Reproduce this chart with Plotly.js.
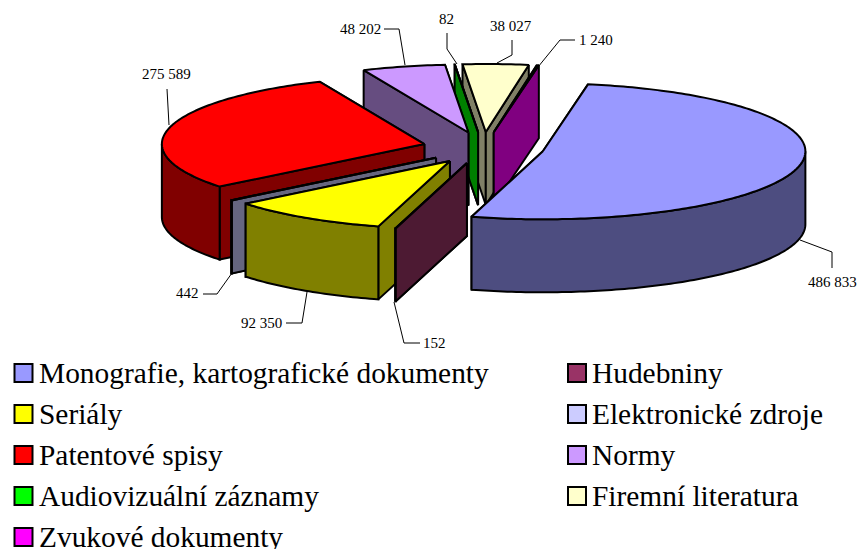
<!DOCTYPE html>
<html>
<head>
<meta charset="utf-8">
<script src="https://cdn.plot.ly/plotly-3.0.1.min.js"></script>
<style>html,body{margin:0;padding:0;background:#fff;overflow:hidden}#chart{width:858px;height:549px}</style>
</head>
<body>
<div id="chart"></div>
<script>
// Data, in clockwise slice order starting from Monografie
const categories = ["Monografie, kartografické dokumenty","Hudebniny","Seriály","Elektronické zdroje","Patentové spisy","Normy","Audiovizuální záznamy","Firemní literatura","Zvukové dokumenty"];
const values = [486833,152,92350,442,275589,48202,82,38027,1240];
const valueLabels = ["486 833","152","92 350","442","275 589","48 202","82","38 027","1 240"];
const topColors = ["#9999FF","#993366","#FFFF00","#CCCCFF","#FF0000","#CC99FF","#00FF00","#FFFFCC","#FF00FF"];
const wallColors = ["#4D4D80","#4D1A33","#808000","#666680","#800000","#664D80","#008000","#808066","#800080"];
const colorsInLegend = ["#9999FF","#FFFF00","#FF0000","#00FF00","#FF00FF","#993366","#CCCCFF","#CC99FF","#FFFFCC"];
const legendNames = ["Monografie, kartografické dokumenty","Seriály","Patentové spisy","Audiovizuální záznamy","Zvukové dokumenty","Hudebniny","Elektronické zdroje","Normy","Firemní literatura"];

// Projection settings
const view = {cx:483.5, cy:147.8, a:262.5, b:68, depth:73, explode:0.232, startDeg:9.9};
const paintOrder = [7,8,6,5,4,3,2,1,0];

// Label placement: text anchor and leader polyline, per slice
const labelLayout = [
  {x:832,y:282,anchor:"center",path:[[800,240],[832,252],[832,268]]},
  {x:421,y:343,anchor:"left",path:[[394,302],[404,343],[420,343]]},
  {x:284,y:323,anchor:"right",path:[[286,323],[302,323],[307,292]]},
  {x:201,y:293,anchor:"right",path:[[203,294],[217,294],[232,273]]},
  {x:166,y:74,anchor:"center",path:[[167,89],[169,125]]},
  {x:383,y:29,anchor:"right",path:[[384,29],[399,29],[405,65]]},
  {x:446,y:19,anchor:"center",path:[[447,33],[447,49],[457,64]]},
  {x:511,y:26,anchor:"center",path:[[512,40],[512,55],[497,63]]},
  {x:577,y:40,anchor:"left",path:[[575,40],[560,40],[538,67]]}
];

const rad = d => d*Math.PI/180;
const total = values.reduce((s,v)=>s+v,0);
let acc = view.startDeg;
const slices = values.map((v,i)=>{
  const span = v/total*360, s = acc, e = acc+span; acc = e;
  const mid = (s+e)/2;
  return {i, s, e,
    ax: view.cx + view.explode*view.a*Math.sin(rad(mid)),
    ay: view.cy - view.explode*view.b*Math.cos(rad(mid))};
});
const pt = (sl,deg,dz=0)=>[sl.ax+view.a*Math.sin(rad(deg)), sl.ay-view.b*Math.cos(rad(deg))+dz];
function arc(sl,from,to,dz=0){
  const out=[]; const n=Math.max(1,Math.ceil(Math.abs(to-from)));
  for(let k=0;k<=n;k++) out.push(pt(sl,from+(to-from)*k/n,dz));
  return out;
}
const face=(pts,fill,name)=>{
  const c=pts.concat([pts[0]]);
  return {type:"scatter",mode:"lines",x:c.map(p=>p[0]),y:c.map(p=>p[1]),fill:"toself",fillcolor:fill,
    line:{color:"#000",width:2,simplify:false},hoverinfo:"name",name,showlegend:false};
};
const traces=[];
paintOrder.forEach(idx=>{
  const sl=slices[idx], d=view.depth, name=categories[idx];
  const wall=deg=>{const o=pt(sl,deg),b=pt(sl,deg,d);
    return {y:o[1],t:face([[sl.ax,sl.ay],o,b,[sl.ax,sl.ay+d]],wallColors[idx],name)};};
  [wall(sl.s),wall(sl.e)].sort((p,q)=>p.y-q.y).forEach(w=>traces.push(w.t));
  // outer rim: only the part of the arc facing the viewer
  [[sl.s,sl.e],[sl.s-360,sl.e-360]].forEach(([s,e])=>{
    const f=Math.max(s,90), t=Math.min(e,270);
    if(t>f) traces.push(face(arc(sl,f,t).concat(arc(sl,t,f,d)),wallColors[idx],name));
  });
  traces.push(face([[sl.ax,sl.ay]].concat(arc(sl,sl.s,sl.e)),topColors[idx],name));
});

// Leader lines
labelLayout.forEach((l,i)=>traces.push({type:"scatter",mode:"lines",x:l.path.map(p=>p[0]),y:l.path.map(p=>p[1]),
  line:{color:"#000",width:1},hoverinfo:"skip",showlegend:false}));

// Legend
const legendCols=[{box:23.5,text:37},{box:577,text:590}];
const legendRows=[373,414,455,496,537];
legendNames.forEach((n,i)=>{
  const col=legendCols[i<5?0:1], y=legendRows[i<5?i:i-5];
  traces.push({type:"scatter",mode:"markers",x:[col.box],y:[y],name:n,hoverinfo:"name",showlegend:false,cliponaxis:false,
    marker:{symbol:"square",size:18,color:colorsInLegend[i],line:{color:"#000",width:2}}});
});

const font="'Liberation Serif','Times New Roman',serif";
const annotations=labelLayout.map((l,i)=>({x:l.x,y:l.y,xref:"x",yref:"y",text:valueLabels[i],showarrow:false,
  xanchor:l.anchor,yanchor:"middle",font:{family:font,size:15,color:"#000"}}));
legendNames.forEach((n,i)=>{
  const col=legendCols[i<5?0:1], y=legendRows[i<5?i:i-5];
  annotations.push({x:col.text,y:y,xref:"x",yref:"y",text:n,showarrow:false,xanchor:"left",yanchor:"middle",
    font:{family:font,size:29.4,color:"#000"}});
});

Plotly.newPlot("chart",traces,{
  width:858,height:549,margin:{l:0,r:0,t:0,b:0},paper_bgcolor:"#fff",plot_bgcolor:"#fff",showlegend:false,
  xaxis:{range:[0,858],visible:false,fixedrange:true},
  yaxis:{range:[549,0],visible:false,fixedrange:true},
  annotations
},{displayModeBar:false,staticPlot:true});
</script>
</body>
</html>
